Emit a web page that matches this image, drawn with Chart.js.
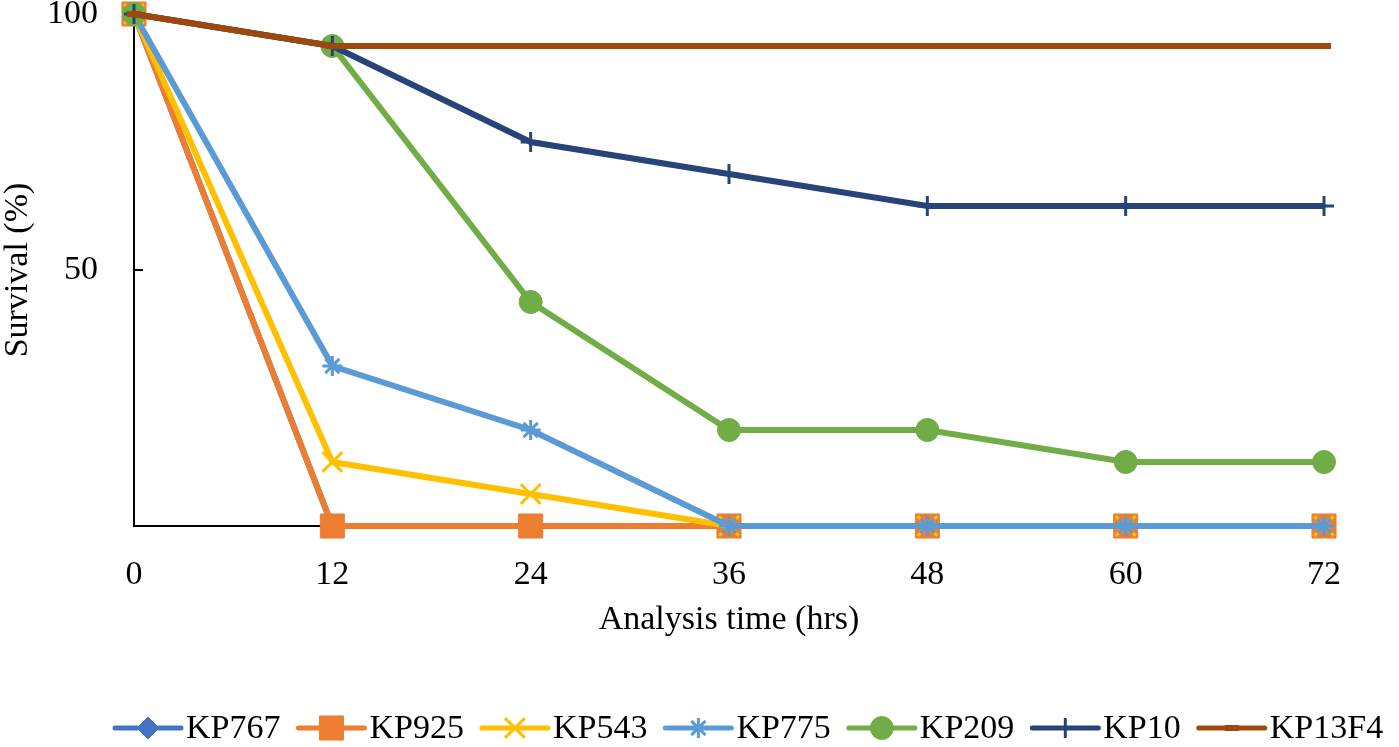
<!DOCTYPE html>
<html>
<head>
<meta charset="utf-8">
<title>Survival</title>
<script src="https://cdn.jsdelivr.net/npm/chart.js@4.4.1/dist/chart.umd.min.js"></script>
<style>
  html, body { margin: 0; padding: 0; background: #fff; }
  #wrap { width: 1399px; height: 747px; position: relative; }
</style>
</head>
<body>
<div id="wrap"><canvas id="survival-chart"></canvas></div>
<script>
// Time points (hrs) and survival (%) per strain
const timePoints = [0, 12, 24, 36, 48, 60, 72];
const strainNames = ['KP767', 'KP925', 'KP543', 'KP775', 'KP209', 'KP10', 'KP13F4'];

const kp767 = [100, 0, 0, 0, 0, 0, 0];
const kp925 = [100, 0, 0, 0, 0, 0, 0];
const kp543 = [100, 12.5, 6.25, 0, 0, 0, 0];
const kp775 = [100, 31.25, 18.75, 0, 0, 0, 0];
const kp209 = [100, 93.75, 43.75, 18.75, 18.75, 12.5, 12.5];
const kp10 = [100, 93.75, 75, 68.75, 62.5, 62.5, 62.5];
const kp13f4 = [100, 93.75, 93.75, 93.75, 93.75, 93.75, 93.75];

const yTickValues = [50, 100];

const seriesValues = [kp767, kp925, kp543, kp775, kp209, kp10, kp13f4];
const seriesColors = ['#4472C4', '#ED7D31', '#FFC000', '#5B9BD5', '#70AD47', '#264478', '#9E480E'];
const markerStyles = ['rectRot', 'rect', 'crossRot', 'star', 'circle', 'cross', 'line'];
const markerRadius = [11, 17, 14, 10, 11.5, 10, 7];
const markerBorder = [1, 1, 3, 3, 1, 3, 6];

const FONT = "'Liberation Serif', 'Times New Roman', serif";

const datasets = strainNames.map((name, i) => ({
  label: name,
  data: timePoints.map((t, j) => ({ x: t, y: seriesValues[i][j] })),
  borderColor: seriesColors[i],
  backgroundColor: seriesColors[i],
  borderWidth: 6,
  tension: 0,
  pointStyle: markerStyles[i],
  pointRadius: markerRadius[i],
  pointBorderWidth: markerBorder[i],
  pointBackgroundColor: seriesColors[i],
  pointBorderColor: seriesColors[i],
  clip: false,
  // Later series sit on top, as in the original
  order: strainNames.length - i
}));

// Legend drawn as line + marker + label, like the original
const lineLegend = {
  id: 'lineLegend',
  afterDraw(chart) {
    const ctx = chart.ctx;
    const y = 728;
    const lineLen = 70;
    let x = 113;
    ctx.save();
    ctx.font = '34px ' + FONT;
    ctx.textBaseline = 'middle';
    ctx.textAlign = 'left';
    chart.data.datasets.forEach(ds => {
      ctx.strokeStyle = ds.borderColor;
      ctx.fillStyle = ds.borderColor;
      ctx.lineWidth = 5;
      ctx.lineCap = 'round';
      ctx.beginPath();
      ctx.moveTo(x + 2, y);
      ctx.lineTo(x + lineLen - 2, y);
      ctx.stroke();
      ctx.lineCap = 'butt';
      ctx.lineWidth = ds.pointBorderWidth;
      Chart.helpers.drawPoint(ctx, {
        pointStyle: ds.pointStyle,
        radius: ds.pointRadius,
        rotation: 0,
        borderWidth: ds.pointBorderWidth
      }, x + lineLen / 2, y);
      x += lineLen + 3;
      ctx.fillStyle = '#000';
      ctx.fillText(ds.label, x, y + 1);
      x += ctx.measureText(ds.label).width + 16;
    });
    ctx.restore();
  }
};

new Chart(document.getElementById('survival-chart'), {
  type: 'line',
  data: { datasets },
  options: {
    responsive: true,
    maintainAspectRatio: false,
    animation: false,
    layout: { autoPadding: false, padding: { top: 14, right: 75, bottom: 97, left: 0 } },
    plugins: {
      legend: { display: false },
      tooltip: { enabled: false }
    },
    scales: {
      x: {
        type: 'linear',
        min: 0,
        max: 72,
        grid: { display: false },
        border: { display: true, color: '#000', width: 2 },
        ticks: {
          stepSize: 12,
          padding: 21,
          color: '#000',
          font: { family: FONT, size: 34 }
        },
        title: {
          display: true,
          text: 'Analysis time (hrs)',
          color: '#000',
          font: { family: FONT, size: 34, lineHeight: 1.05 },
          padding: { top: 0, bottom: 12 }
        },
        afterFit(scale) { scale.height = 124; }
      },
      y: {
        min: 0,
        max: 100,
        afterBuildTicks(scale) {
          scale.ticks = [0].concat(yTickValues).map(v => ({ value: v }));
        },
        grid: {
          drawOnChartArea: false,
          drawTicks: true,
          tickLength: -9,
          color: '#000',
          lineWidth: 2
        },
        border: { display: true, color: '#000', width: 2 },
        ticks: {
          padding: 45,
          color: '#000',
          font: { family: FONT, size: 34 },
          callback: v => (v === 0 ? '' : String(v))
        },
        title: {
          display: true,
          text: 'Survival (%)',
          color: '#000',
          font: { family: FONT, size: 34, lineHeight: 1.05 },
          padding: 0
        },
        afterFit(scale) {
          scale.width = 134;
          // labels may overhang the plot; don't let them shrink it
          scale.paddingTop = 0;
          scale.paddingBottom = 0;
        }
      }
    }
  },
  plugins: [lineLegend]
});
</script>
</body>
</html>
